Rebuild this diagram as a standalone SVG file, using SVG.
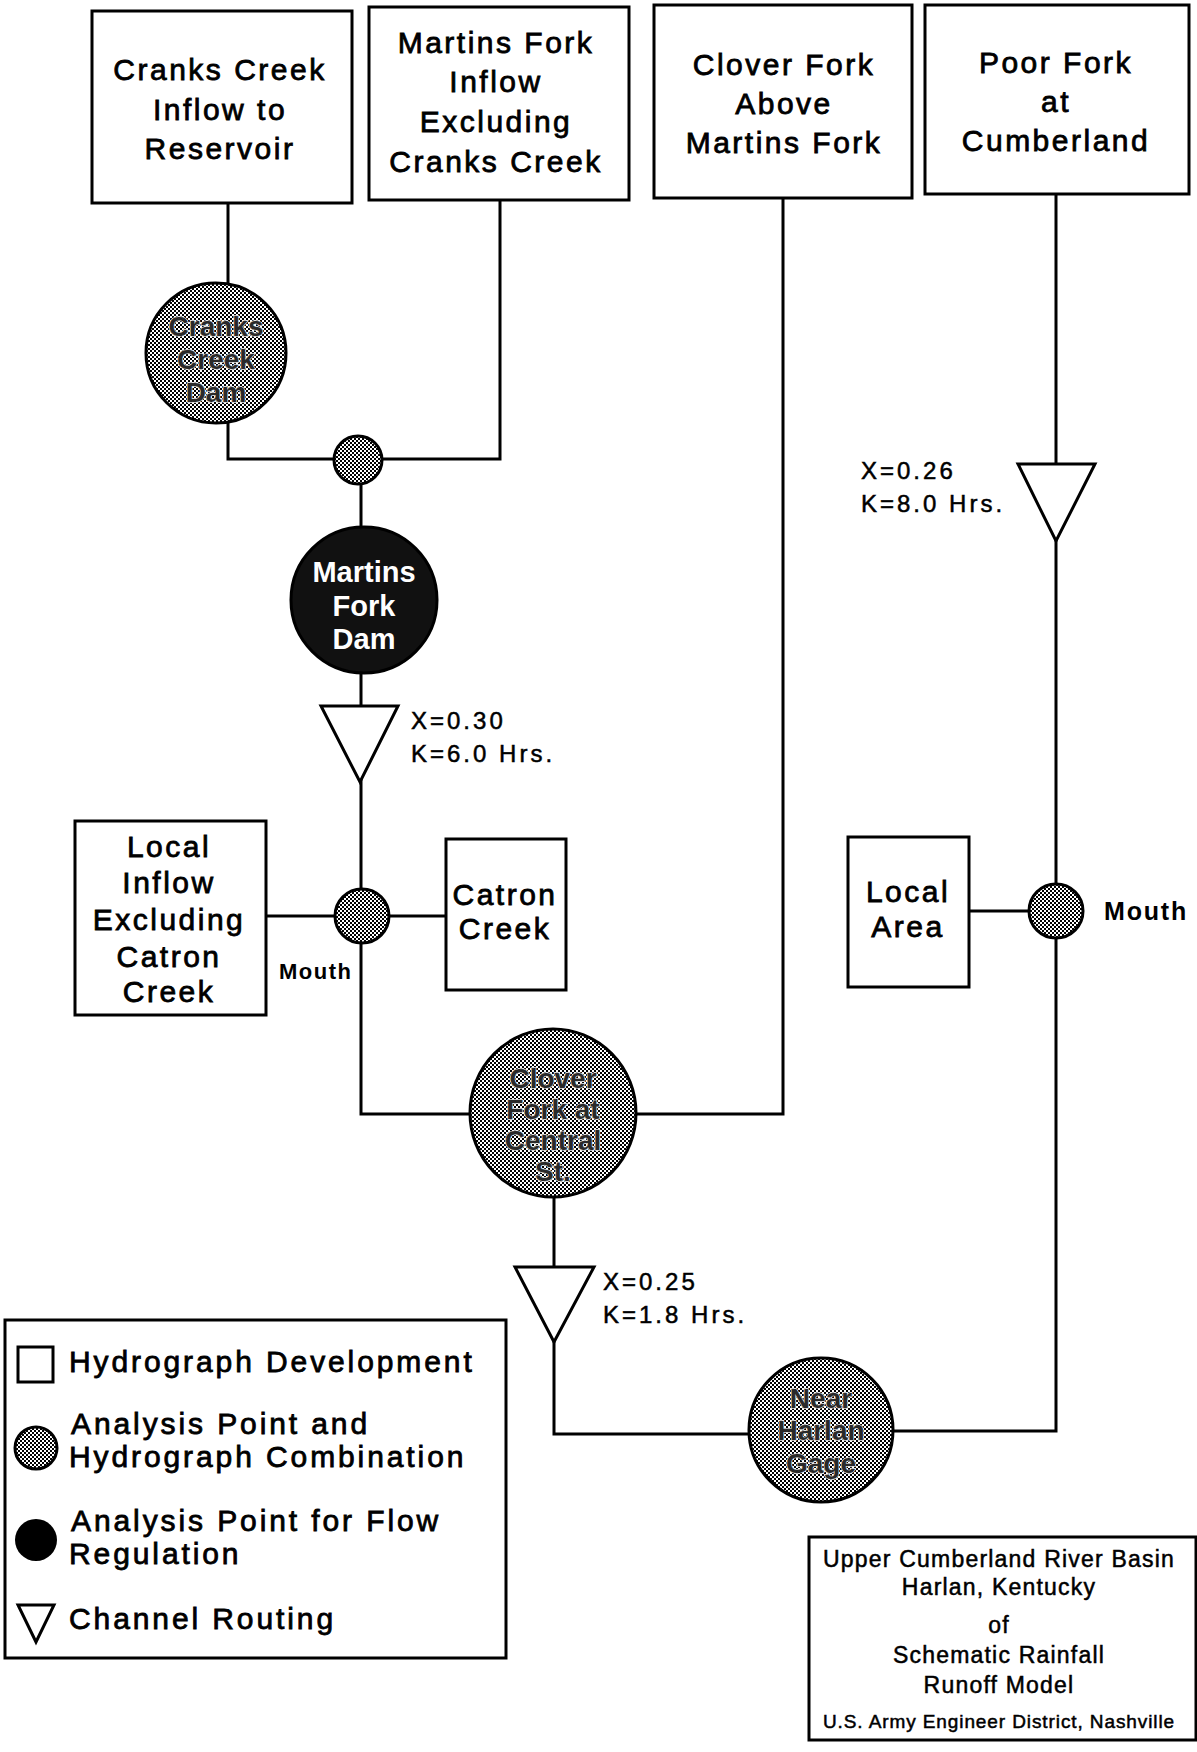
<svg xmlns="http://www.w3.org/2000/svg" width="1197" height="1752" viewBox="0 0 1197 1752">
<defs>
<pattern id="dots" width="4" height="4" patternUnits="userSpaceOnUse">
<rect width="4" height="4" fill="#fff"/>
<rect width="2" height="2" fill="#000"/>
<rect x="2" y="2" width="2" height="2" fill="#000"/>
</pattern>
<style>
.box{fill:#fff;stroke:#000;stroke-width:3}
.ap{fill:url(#dots);stroke:#000;stroke-width:3}
.reg{fill:#111;stroke:#000;stroke-width:3}
.tri{fill:#fff;stroke:#000;stroke-width:3;stroke-linejoin:miter}
.con{fill:none;stroke:#000;stroke-width:3}
text{font-family:"Liberation Sans",Arial,sans-serif;fill:#000}
.lbl{font-size:30px;letter-spacing:2.5px;text-anchor:middle;stroke:#000;stroke-width:0.8}
.cl{font-size:28px;font-weight:bold;text-anchor:middle;fill:#2a2a2a;stroke:#ddd;stroke-width:1.5px;paint-order:stroke}
.wl{font-size:29px;font-weight:bold;text-anchor:middle;fill:#fff}
.rt{font-size:24px;letter-spacing:3px;stroke:#000;stroke-width:0.5}
.lg{font-size:30px;letter-spacing:2.9px;stroke:#000;stroke-width:0.8}
.tt{font-size:23px;letter-spacing:1.2px;text-anchor:middle;stroke:#000;stroke-width:0.5}
</style>
</defs>
<rect width="1197" height="1752" fill="#fff"/>

<g id="connectors">
<path class="con" d="M228,203 V285"/>
<path class="con" d="M228,420 V459 H358"/>
<path class="con" d="M500,200 V459 H358"/>
<path class="con" d="M361,460 V1114 H553"/>
<path class="con" d="M266,916 H446"/>
<path class="con" d="M783,198 V1114 H553"/>
<path class="con" d="M554,1114 V1434 H821"/>
<path class="con" d="M1056,194 V1431 H821"/>
<path class="con" d="M969,911 H1056"/>
</g>

<g id="cranks-inflow">
<rect class="box" x="92" y="11" width="260" height="192"/>
<text class="lbl" x="220" y="80">Cranks Creek</text>
<text class="lbl" x="220" y="120">Inflow to</text>
<text class="lbl" x="220" y="159">Reservoir</text>
</g>

<g id="martins-inflow">
<rect class="box" x="369" y="7" width="260" height="193"/>
<text class="lbl" x="496" y="53">Martins Fork</text>
<text class="lbl" x="496" y="92">Inflow</text>
<text class="lbl" x="496" y="132">Excluding</text>
<text class="lbl" x="496" y="172">Cranks Creek</text>
</g>

<g id="clover-above">
<rect class="box" x="654" y="5" width="258" height="193"/>
<text class="lbl" x="784" y="75">Clover Fork</text>
<text class="lbl" x="784" y="114">Above</text>
<text class="lbl" x="784" y="153">Martins Fork</text>
</g>

<g id="poor-fork">
<rect class="box" x="925" y="5" width="264" height="189"/>
<text class="lbl" x="1056" y="73">Poor Fork</text>
<text class="lbl" x="1056" y="112">at</text>
<text class="lbl" x="1056" y="151">Cumberland</text>
</g>

<g id="cranks-dam">
<circle class="ap" cx="216" cy="353" r="70"/>
<text class="cl" x="216" y="336">Cranks</text>
<text class="cl" x="216" y="369">Creek</text>
<text class="cl" x="216" y="402">Dam</text>
</g>

<g id="junction-1">
<circle class="ap" cx="358" cy="460" r="24"/>
</g>

<g id="martins-dam">
<circle class="reg" cx="364" cy="600" r="73"/>
<text class="wl" x="364" y="582">Martins</text>
<text class="wl" x="364" y="616">Fork</text>
<text class="wl" x="364" y="649">Dam</text>
</g>

<g id="routing-1">
<polygon class="tri" points="321,706 398,706 360,782"/>
<text class="rt" x="411" y="729">X=0.30</text>
<text class="rt" x="411" y="762">K=6.0 Hrs.</text>
</g>

<g id="local-inflow">
<rect class="box" x="75" y="821" width="191" height="194"/>
<text class="lbl" x="169" y="857">Local</text>
<text class="lbl" x="169" y="893">Inflow</text>
<text class="lbl" x="169" y="930">Excluding</text>
<text class="lbl" x="169" y="967">Catron</text>
<text class="lbl" x="169" y="1002">Creek</text>
</g>

<g id="catron-creek">
<rect class="box" x="446" y="839" width="120" height="151"/>
<text class="lbl" x="505" y="905">Catron</text>
<text class="lbl" x="505" y="939">Creek</text>
</g>

<g id="catron-mouth">
<circle class="ap" cx="362" cy="916" r="27"/>
<text x="279" y="979" style="font-size:22px;font-weight:bold;letter-spacing:1.5px">Mouth</text>
</g>

<g id="clover-central">
<ellipse class="ap" cx="553" cy="1113" rx="83" ry="84"/>
<text class="cl" x="553" y="1088">Clover</text>
<text class="cl" x="553" y="1119">Fork at</text>
<text class="cl" x="553" y="1150">Central</text>
<text class="cl" x="553" y="1181">St.</text>
</g>

<g id="routing-2">
<polygon class="tri" points="515,1267 594,1267 554,1342"/>
<text class="rt" x="603" y="1290">X=0.25</text>
<text class="rt" x="603" y="1323">K=1.8 Hrs.</text>
</g>

<g id="near-harlan">
<circle class="ap" cx="821" cy="1430" r="72"/>
<text class="cl" x="821" y="1408">Near</text>
<text class="cl" x="821" y="1440">Harlan</text>
<text class="cl" x="821" y="1473">Gage</text>
</g>

<g id="routing-3">
<polygon class="tri" points="1018,464 1095,464 1056,541"/>
<text class="rt" x="861" y="479">X=0.26</text>
<text class="rt" x="861" y="512">K=8.0 Hrs.</text>
</g>

<g id="local-area">
<rect class="box" x="848" y="837" width="121" height="150"/>
<text class="lbl" x="908" y="902">Local</text>
<text class="lbl" x="908" y="937">Area</text>
</g>

<g id="poor-mouth">
<circle class="ap" cx="1056" cy="911" r="27"/>
<text x="1104" y="920" style="font-size:25px;font-weight:bold;letter-spacing:1.8px">Mouth</text>
</g>

<g id="legend">
<rect class="box" x="5" y="1320" width="501" height="338"/>
<rect x="18" y="1347" width="35" height="35" fill="#fff" stroke="#000" stroke-width="3"/>
<text class="lg" x="69" y="1372">Hydrograph Development</text>
<circle class="ap" cx="36" cy="1448" r="21"/>
<text class="lg" x="71" y="1434">Analysis Point and</text>
<text class="lg" x="69" y="1467">Hydrograph Combination</text>
<circle cx="36" cy="1540" r="21" fill="#000"/>
<text class="lg" x="71" y="1531">Analysis Point for Flow</text>
<text class="lg" x="69" y="1564">Regulation</text>
<polygon class="tri" points="18,1605 54,1605 36,1642"/>
<text class="lg" x="69" y="1629">Channel Routing</text>
</g>

<g id="title">
<rect class="box" x="809" y="1537" width="387" height="203"/>
<text class="tt" x="999" y="1567">Upper Cumberland River Basin</text>
<text class="tt" x="999" y="1595">Harlan, Kentucky</text>
<text class="tt" x="999" y="1633">of</text>
<text class="tt" x="999" y="1663">Schematic Rainfall</text>
<text class="tt" x="999" y="1693">Runoff Model</text>
<text class="tt" x="999" y="1728" style="font-size:19px;letter-spacing:0.9px">U.S. Army Engineer District, Nashville</text>
<text x="1112" y="1772" style="font-size:26px;font-weight:bold;letter-spacing:1px">Plate 6</text>
</g>
</svg>
